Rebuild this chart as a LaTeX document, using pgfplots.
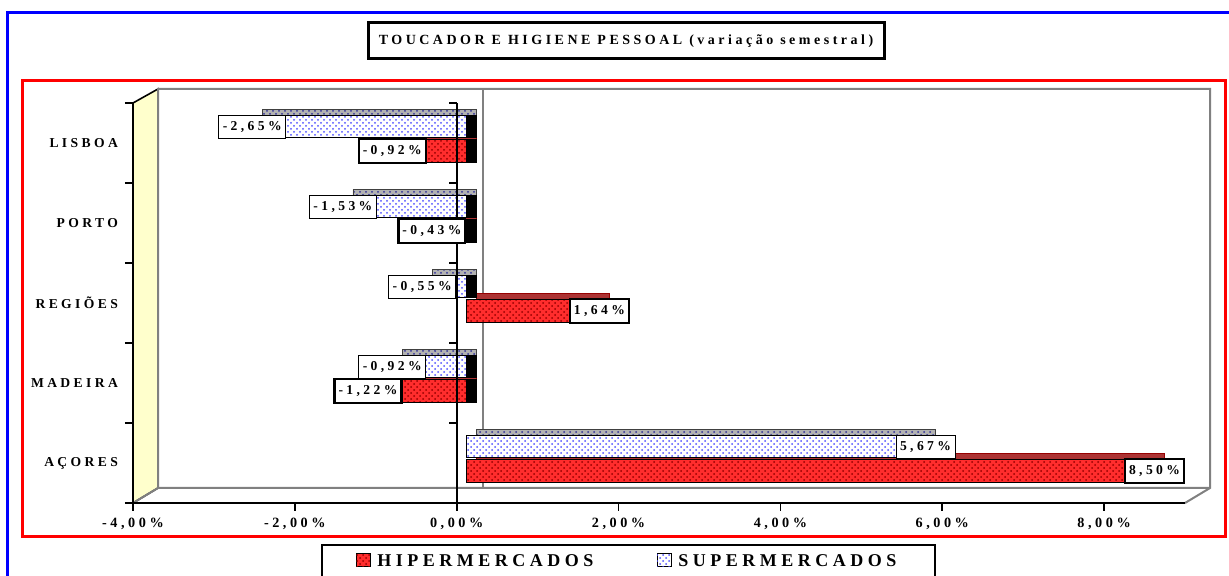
\documentclass[border=0pt]{standalone}
\usepackage{pgfplots}
\pgfplotsset{compat=1.18}
\usepackage{pgfplotstable}
\usetikzlibrary{patterns}
\usepackage{fontspec}
\setmainfont{Liberation Serif}
\newfontfamily\spf[LetterSpace=25]{Liberation Serif}
\newcommand{\lab}{\spf\bfseries\fontsize{6.8}{8}\selectfont}
\newcommand{\tkf}{\spf\bfseries\fontsize{7.1}{8}\selectfont}
\newcommand{\ttl}{\spf\bfseries\fontsize{7}{8}\selectfont}
\newcommand{\legf}{\spf\bfseries\fontsize{9}{10}\selectfont}
\definecolor{hred}{RGB}{255,45,45}
\definecolor{hdark}{RGB}{150,0,0}
\definecolor{sdot}{RGB}{80,80,255}
\definecolor{wallyel}{RGB}{255,255,204}

\pgfplotstableread{
y super hiper
1 5.67 8.50
2 -0.92 -1.22
3 -0.55 1.64
4 -1.53 -0.43
5 -2.65 -0.92
}\datatab

\begin{document}
\begin{tikzpicture}
\begin{scope}[shift={(-66.5pt,251.5pt)},x=0.5pt,y=-0.5pt]
 \useasboundingbox (0,0) rectangle (1229,576);
 \draw[blue, line width=1.5pt] (8,13) rectangle (1240,600);
 \draw[red, line width=1.5pt] (23,81) rectangle (1225,537);
 \node[draw=black, line width=1.5pt, fill=white, minimum width=258pt, minimum height=18pt, inner sep=0pt] at (626,41) {\ttl TOUCADOR E HIGIENE PESSOAL (variação semestral)};
 \filldraw[fill=wallyel, draw=black, line width=0.8pt] (133,103) -- (158,89) -- (158,488) -- (133,503) -- cycle;
 \draw[gray, line width=1pt] (158,488) -- (158,89) -- (1210,89) -- (1210,488) -- (1185,503);
 \draw[gray, line width=1pt] (133,503) -- (158,488) -- (1210,488);
 \draw[gray, line width=0.8pt] (483,89) -- (483,488);
 \draw[black, line width=0.6pt, fill=white] (322,545) rectangle (935,600);
 \filldraw[fill=hred, draw=black, line width=0.5pt, postaction={pattern=crosshatch dots, pattern color=hdark}] (356,554) rectangle (370,567);
 \node[anchor=west, inner sep=0pt] at (377,560.5) {\legf HIPERMERCADOS};
 \filldraw[fill=white, draw=black, line width=0.5pt, postaction={pattern=crosshatch dots, pattern color=sdot}] (657,554) rectangle (671,567);
 \node[anchor=west, inner sep=0pt] at (678,560.5) {\legf SUPERMERCADOS};
\end{scope}
\begin{axis}[
  at={(0,0)}, anchor=south west, scale only axis,
  width=526pt, height=200pt,
  xmin=-4, xmax=9, ymin=0.5, ymax=5.5,
  clip=false,
  axis lines*=left,
  axis line style={black, line width=1.2pt},
  tick align=outside, major tick length=4pt,
  tick style={black, line width=0.8pt},
  xtick={-4,-2,0,2,4,6,8},
  xticklabels={{-4,00\%},{-2,00\%},{0,00\%},{2,00\%},{4,00\%},{6,00\%},{8,00\%}},
  xticklabel style={font=\tkf},
  ytick={0.5,1.5,...,5.5}, yticklabels={},
  extra y ticks={1,2,3,4,5},
  extra y tick labels={AÇORES,MADEIRA,REGIÕES,PORTO,LISBOA},
  extra y tick style={major tick length=0pt, yticklabel style={font=\lab, xshift=-4pt}},
  point meta=x,
]
% back faces
\addplot[xbar, bar width=0.28, bar shift=-0.1, xshift=10pt, yshift=3pt, fill=hdark!80, draw=hdark, line width=0.3pt] table[x=hiper,y=y]{\datatab};
\addplot[xbar, bar width=0.28, bar shift=-0.1, xshift=10pt, fill=black, draw=black, line width=0.3pt] table[x=hiper,y=y]{\datatab};
\addplot[xbar, bar width=0.28, bar shift=0.205, xshift=10pt, yshift=3pt, fill=gray!60, draw=gray!50!black, line width=0.3pt, postaction={pattern=crosshatch dots, pattern color=sdot!60!black}] table[x=super,y=y]{\datatab};
\addplot[xbar, bar width=0.28, bar shift=0.205, xshift=10pt, fill=black, draw=black, line width=0.3pt] table[x=super,y=y]{\datatab};
% front faces
\addplot[xbar, bar width=0.28, bar shift=0.205, xshift=5pt, fill=white, draw=black, line width=0.4pt,
  postaction={pattern=crosshatch dots, pattern color=sdot},
  nodes near coords={\pgfmathprintnumber[fixed,fixed zerofill,precision=2,use comma,assume math mode=true]{\pgfplotspointmeta}\%},
  every node near coord/.append style={anchor=center, yshift=8.2pt, draw=black, fill=white, line width=0.5pt, font=\lab, minimum height=11.5pt, inner xsep=2pt, inner ysep=0pt}] table[x=super,y=y]{\datatab};
\addplot[xbar, bar width=0.28, bar shift=-0.1, xshift=5pt, fill=hred, draw=black, line width=0.4pt,
  postaction={pattern=crosshatch dots, pattern color=hdark},
  nodes near coords={\pgfmathprintnumber[fixed,fixed zerofill,precision=2,use comma,assume math mode=true]{\pgfplotspointmeta}\%},
  every node near coord/.append style={anchor=center, yshift=-4pt, draw=black, fill=white, line width=1.1pt, font=\lab, minimum height=12pt, inner xsep=2pt, inner ysep=0pt}] table[x=hiper,y=y]{\datatab};
\draw[black, line width=0.8pt] (axis cs:0,0.5) -- (axis cs:0,5.5);
\pgfplotsinvokeforeach{0.5,1.5,2.5,3.5,4.5,5.5}{\draw[black, line width=0.8pt] (axis cs:0,#1) -- ([xshift=-4pt]axis cs:0,#1);}
\end{axis}
\end{tikzpicture}
\end{document}
